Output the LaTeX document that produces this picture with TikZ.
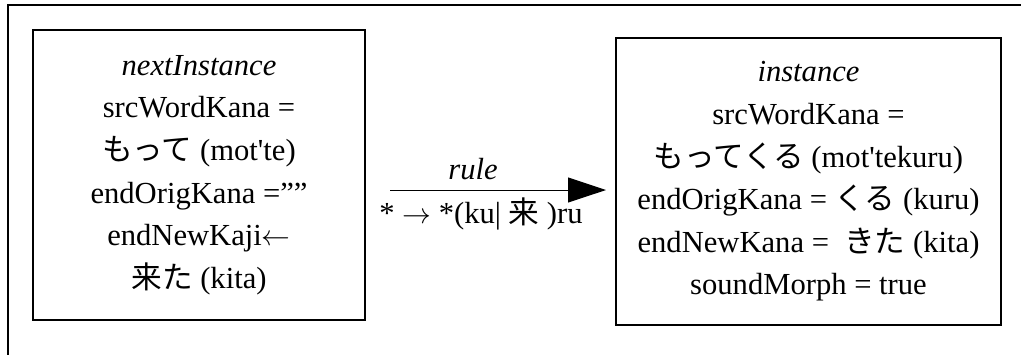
\documentclass[tikz,border=0pt]{standalone}
\usepackage{fontspec}
\setmainfont{Liberation Serif}
\newfontfamily\cjk{Noto Sans CJK JP}
\usetikzlibrary{arrows.meta}
\begin{document}
\begin{tikzpicture}[
  x=0.5pt,
  y=-0.5pt,
  frame line/.style={line width=1pt},
  instance box/.style={
    draw,
    line width=0.8pt,
    align=center,
    inner sep=0pt,
    font=\fontsize{15.3}{21.3}\selectfont
  },
  rule arrow/.style={
    line width=0.5pt,
    -{Triangle[length=19pt,width=12.5pt]}
  },
  rule label/.style={font=\fontsize{15.3}{18}\selectfont, inner sep=0pt}
]
  \useasboundingbox (0,0) rectangle (1021,355);
  % outer frame, only top and left edges visible
  \draw[frame line] (1021,5) -- (8,5) -- (8,355);

  \node[instance box, minimum width=166pt, minimum height=145pt] (next)
    at (199,175) {\textit{nextInstance}\\
      srcWordKana =\\
      {\cjk もって} (mot\textquotesingle te)\\
      endOrigKana =””\\
      endNewKaji$\leftarrow$\\
      {\cjk 来た} (kita)};

  \node[instance box, minimum width=192.5pt, minimum height=143.5pt] (inst)
    at (808.5,181.5) {\textit{instance}\\
      srcWordKana =\\
      {\cjk もってくる} (mot\textquotesingle tekuru)\\
      endOrigKana = {\cjk くる} (kuru)\\
      endNewKana = \ {\cjk きた} (kita)\\
      soundMorph = true};

  \coordinate (rule start) at (390,190);
  \coordinate (rule end) at (606,190);
  \draw[rule arrow] (rule start) -- (rule end);
  \node[rule label] (rule name) at (473,169) {\textit{rule}};
  \node[rule label] (rule body) at (481,214) {* $\rightarrow$ *(ku| {\cjk 来} )ru};
\end{tikzpicture}
\end{document}
